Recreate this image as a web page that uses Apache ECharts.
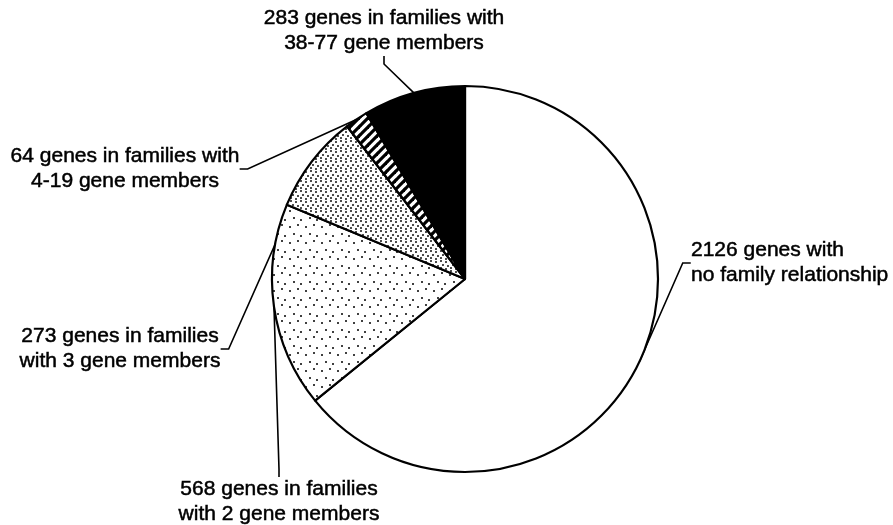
<!DOCTYPE html>
<html>
<head>
<meta charset="utf-8">
<script src="https://cdn.jsdelivr.net/npm/echarts@6/dist/echarts.min.js"></script>
<style>
  html, body { margin: 0; padding: 0; background: #fff; }
  #chart { width: 893px; height: 525px; }
</style>
</head>
<body>
<div id="chart"></div>
<script>
// Gene family composition, drawn clockwise from twelve o'clock
const categories = [
  '2126 genes with\nno family relationship',
  '568 genes in families\nwith 2 gene members',
  '273 genes in families\nwith 3 gene members',
  '64 genes in families with\n4-19 gene members',
  '283 genes in families with\n38-77 gene members'
];
const geneCounts = [2126, 568, 273, 64, 283];

// Where each label block sits (x, y, text alignment)
const labelSpots = [
  { x: 691, y: 263, align: 'left' },
  { x: 279, y: 502, align: 'center' },
  { x: 120, y: 349, align: 'center' },
  { x: 125, y: 169, align: 'center' },
  { x: 384, y: 31, align: 'center' }
];

// Monochrome fill textures
function tile(size, paint) {
  const c = document.createElement('canvas');
  c.width = c.height = size;
  const ctx = c.getContext('2d');
  ctx.fillStyle = '#fff';
  ctx.fillRect(0, 0, size, size);
  ctx.fillStyle = '#000';
  ctx.strokeStyle = '#000';
  paint(ctx, size);
  return { image: c, repeat: 'repeat' };
}
function dots(pts, r) {
  return function (ctx) {
    pts.forEach(function (p) {
      ctx.beginPath();
      ctx.arc(p[0], p[1], r, 0, Math.PI * 2);
      ctx.fill();
    });
  };
}
const sparseDots = tile(16, dots([[2, 3], [10, 1], [6, 10], [13, 12]], 1.0));
const denseDots = tile(10, dots([[1, 1], [6, 2], [3, 5], [8, 6], [1, 8], [6, 9]], 0.95));
const hatch = tile(9, function (ctx, s) {
  ctx.lineWidth = 3.2;
  for (let k = -s; k <= s; k += s) {
    ctx.beginPath();
    ctx.moveTo(k - 1, s + 1);
    ctx.lineTo(k + s + 1, -1);
    ctx.stroke();
  }
});
const fills = ['#ffffff', sparseDots, denseDots, hatch, '#000000'];

const chart = echarts.init(document.getElementById('chart'), null, { renderer: 'canvas' });
chart.setOption({
  backgroundColor: '#ffffff',
  animation: false,
  series: [{
    type: 'pie',
    center: [465, 279],
    radius: 193,
    startAngle: 90,
    clockwise: true,
    avoidLabelOverlap: false,
    silent: true,
    itemStyle: { borderColor: '#000', borderWidth: 2.2 },
    label: {
      show: true,
      position: 'outside',
      formatter: '{b}',
      color: '#000',
      fontFamily: '"Liberation Sans", Arial, Helvetica, sans-serif',
      fontSize: 21,
      lineHeight: 25,
      textBorderColor: '#000',
      textBorderWidth: 0.5
    },
    labelLine: {
      show: true,
      length: 12,
      length2: 8,
      smooth: false,
      lineStyle: { color: '#000', width: 1.6 }
    },
    labelLayout: function (p) {
      const s = labelSpots[p.dataIndex];
      return { x: s.x, y: s.y, align: s.align, verticalAlign: 'middle' };
    },
    data: geneCounts.map(function (v, i) {
      return {
        value: v,
        name: categories[i],
        itemStyle: { color: fills[i] },
        label: { align: labelSpots[i].align }
      };
    })
  }]
});
</script>
</body>
</html>
